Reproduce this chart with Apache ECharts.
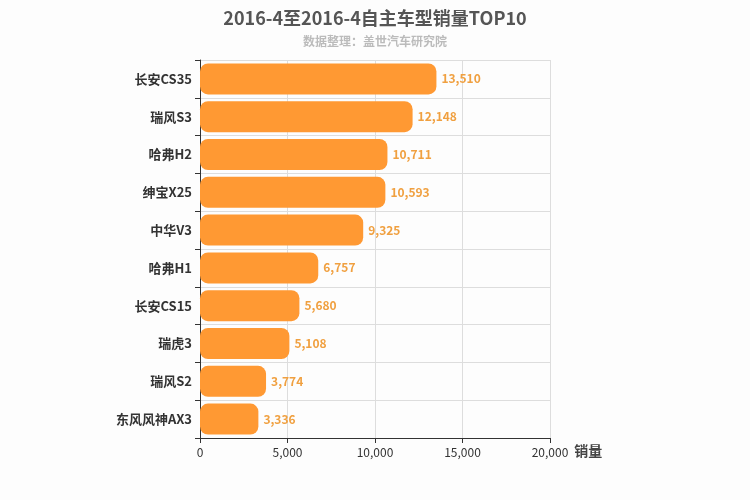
<!DOCTYPE html>
<html>
<head>
<meta charset="utf-8">
<script src="https://cdn.jsdelivr.net/npm/echarts@6/dist/echarts.min.js"></script>
<style>html,body{margin:0;padding:0;background:#fdfdfd;}#main{width:750px;height:500px;}</style>
</head>
<body>
<div id="main"></div>
<script>
var models = ['长安CS35', '瑞风S3', '哈弗H2', '绅宝X25', '中华V3', '哈弗H1', '长安CS15', '瑞虎3', '瑞风S2', '东风风神AX3'];
var sales = [13510, 12148, 10711, 10593, 9325, 6757, 5680, 5108, 3774, 3336];

var chart = echarts.init(document.getElementById('main'), null, { renderer: 'canvas' });

var option = {
    backgroundColor: '#fdfdfd',
    textStyle: { fontFamily: 'Noto Sans CJK SC, DejaVu Sans, sans-serif' },
    title: {
        text: '2016-4至2016-4自主车型销量TOP10',
        subtext: '数据整理：盖世汽车研究院',
        left: 'center',
        top: 4,
        itemGap: 8,
        textStyle: { fontSize: 18, fontWeight: 'bold', color: '#555' },
        subtextStyle: { fontSize: 12, fontWeight: 'bold', color: '#bbb' }
    },
    grid: { left: 200, right: 200, top: 60, bottom: 62 },
    xAxis: {
        type: 'value',
        min: 0,
        max: 20000,
        interval: 5000,
        name: '销量',
        nameGap: 14,
        nameTextStyle: { fontSize: 14, fontWeight: 'bold', color: '#444', verticalAlign: 'top', padding: [6, 0, 0, 0] },
        axisLine: { show: true, lineStyle: { color: '#333' } },
        axisTick: { show: true },
        axisLabel: { color: '#333', fontSize: 12 },
        splitLine: { lineStyle: { color: '#ddd' } }
    },
    yAxis: {
        type: 'category',
        data: models,
        inverse: true,
        axisLine: { show: true, lineStyle: { color: '#333' } },
        axisTick: { show: true },
        axisLabel: { color: '#333', fontSize: 13, fontWeight: 'bold' },
        splitLine: { show: true, lineStyle: { color: '#ddd' } }
    },
    series: [{
        type: 'bar',
        data: sales,
        barWidth: '82%',
        itemStyle: { color: '#ff9933', borderRadius: 8 },
        label: {
            show: true,
            position: 'right',
            color: '#f0a040',
            fontWeight: 'bold',
            fontSize: 12,
            formatter: function (p) { return p.value.toLocaleString('en-US'); }
        }
    }]
};

chart.setOption(option);
window.addEventListener('resize', chart.resize);
</script>
</body>
</html>
